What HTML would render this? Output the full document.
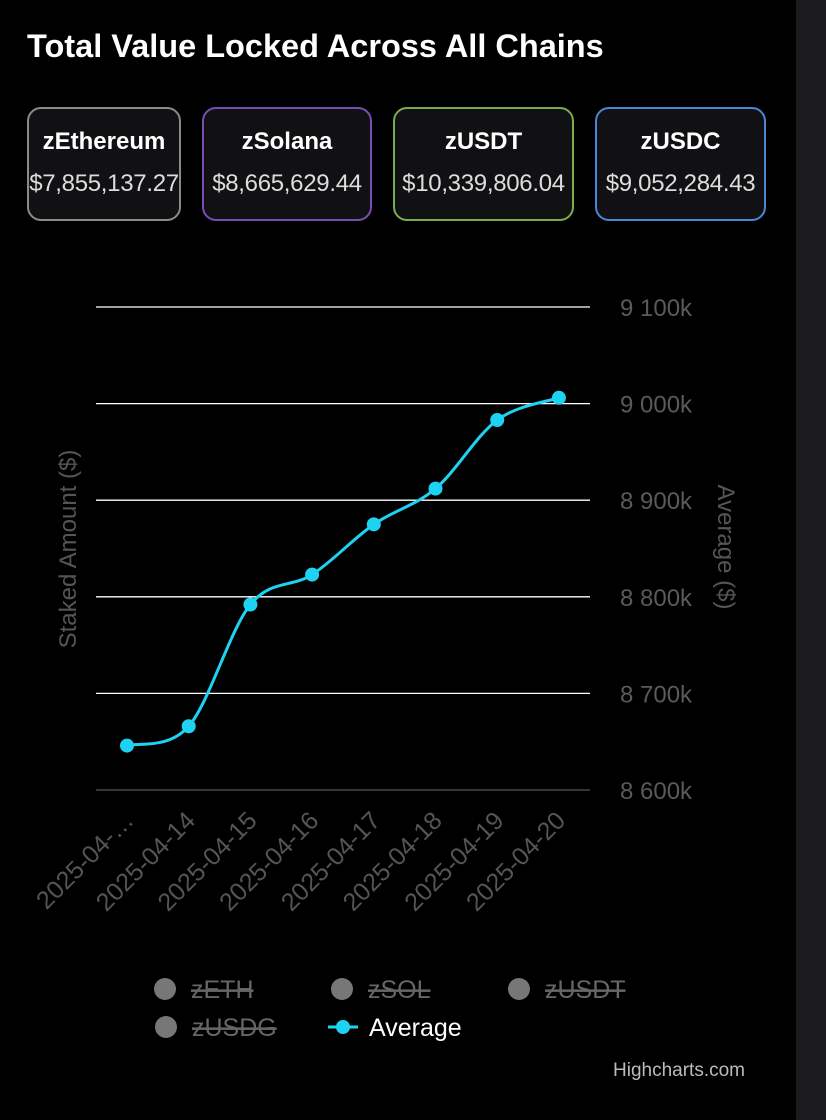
<!DOCTYPE html>
<html><head><meta charset="utf-8"><style>
body{margin:0;width:826px;height:1120px;background:#000;overflow:hidden;font-family:"Liberation Sans",sans-serif;position:relative}
#strip{position:absolute;left:796px;top:0;width:30px;height:1120px;background:#1b1b1d}
h1{position:absolute;left:27px;top:28px;margin:0;color:#fff;font-size:32.5px;font-weight:bold}
.card{position:absolute;top:107px;height:114px;border:2px solid;border-radius:14px;background:#111114;color:#fff;text-align:center;box-sizing:border-box}
.card .t{font-weight:bold;font-size:24px;margin-top:19px}
.card .v{font-size:24px;margin-top:14px;color:#ddd;white-space:nowrap;letter-spacing:-0.3px}
</style></head><body>
<div id="strip"></div>
<h1>Total Value Locked Across All Chains</h1>
<div class="card" style="left:27px;width:154px;border-color:#8a8a8a"><div class="t">zEthereum</div><div class="v">$7,855,137.27</div></div>
<div class="card" style="left:202px;width:170px;border-color:#7b4cb3"><div class="t">zSolana</div><div class="v">$8,665,629.44</div></div>
<div class="card" style="left:393px;width:181px;border-color:#7aae4c"><div class="t">zUSDT</div><div class="v">$10,339,806.04</div></div>
<div class="card" style="left:595px;width:171px;border-color:#4a86d4"><div class="t">zUSDC</div><div class="v">$9,052,284.43</div></div>
<svg id="chart" width="826" height="1120" style="position:absolute;left:0;top:0"></svg>
<script>
const categories=["2025-04-…","2025-04-14","2025-04-15","2025-04-16","2025-04-17","2025-04-18","2025-04-19","2025-04-20"];
const averageValues=[8646,8666,8792,8823,8875,8912,8983,9006];
const yTicks=[8600,8700,8800,8900,9000,9100];
const yTickLabels=["8 600k","8 700k","8 800k","8 900k","9 000k","9 100k"];
const NS="http://www.w3.org/2000/svg",svg=document.getElementById('chart');
function y(v){return 790-(v-8600)*0.966;}
function x(i){return 127+i*61.7;}
function mk(t,a,txt){const e=document.createElementNS(NS,t);for(const k in a)e.setAttribute(k,a[k]);if(txt!=null)e.textContent=txt;svg.appendChild(e);return e;}
yTicks.forEach((v,i)=>{
 const l=mk('line',{x1:96,x2:590,y1:y(v),y2:y(v),stroke:i==0?'#555':'#fff','stroke-width':1.3});
 
 
 const t=mk('text',{x:620,y:y(v)+9,fill:'#5a5a5a','font-size':24},yTickLabels[i]);
 
 
});
categories.forEach((c,i)=>{
 const t=mk('text',{x:x(i)+8,y:822,fill:'#555','font-size':25,'text-anchor':'end',transform:`rotate(-45 ${x(i)+8} 822)`},c);
 
 
});
let t1=mk('text',{x:76,y:549,fill:'#555','font-size':24,'text-anchor':'middle',transform:'rotate(-90 76 549)'},'Staked Amount ($)');


let t2=mk('text',{x:718,y:547,fill:'#555','font-size':24,'text-anchor':'middle',transform:'rotate(90 718 547)'},'Average ($)');


const P=averageValues.map((v,i)=>[x(i),y(v)]);
let d=`M${P[0][0]},${P[0][1]}`;
for(let i=0;i<P.length-1;i++){
 const p0=P[Math.max(0,i-1)],p1=P[i],p2=P[i+1],p3=P[Math.min(P.length-1,i+2)];
 const c1=[p1[0]+(p2[0]-p0[0])/6,p1[1]+(p2[1]-p0[1])/6],c2=[p2[0]-(p3[0]-p1[0])/6,p2[1]-(p3[1]-p1[1])/6];
 d+=` C${c1[0]},${c1[1]} ${c2[0]},${c2[1]} ${p2[0]},${p2[1]}`;
}
const ln=mk('path',{d:d,fill:'none',stroke:'#1ed3f2','stroke-width':3});


P.forEach(p=>{const c=mk('circle',{cx:p[0],cy:p[1],r:7,fill:'#1ed3f2'});
 
 });
const leg=[["zETH",165,989],["zSOL",342,989],["zUSDT",519,989],["zUSDG",166,1027]];
leg.forEach(l=>{
 const g=document.createElementNS(NS,'g');svg.appendChild(g);
 
 
 const c=document.createElementNS(NS,'circle');c.setAttribute('cx',l[1]);c.setAttribute('cy',l[2]);c.setAttribute('r',11);c.setAttribute('fill','#777');g.appendChild(c);
 const t=document.createElementNS(NS,'text');t.setAttribute('x',l[1]+26);t.setAttribute('y',l[2]+9);t.setAttribute('fill','#666');t.setAttribute('font-size',25);t.setAttribute('text-decoration','line-through');t.textContent=l[0];g.appendChild(t);
});
const ga=document.createElementNS(NS,'g');svg.appendChild(ga);


ga.innerHTML='<line x1="328" x2="358" y1="1027" y2="1027" stroke="#1ed3f2" stroke-width="3"/><circle cx="343" cy="1027" r="7" fill="#1ed3f2"/><text x="369" y="1036" fill="#fff" font-size="25">Average</text>';
const hc=mk('text',{x:745,y:1076,fill:'#bbb','font-size':19,'text-anchor':'end'},'Highcharts.com');


</script>
</body></html>
